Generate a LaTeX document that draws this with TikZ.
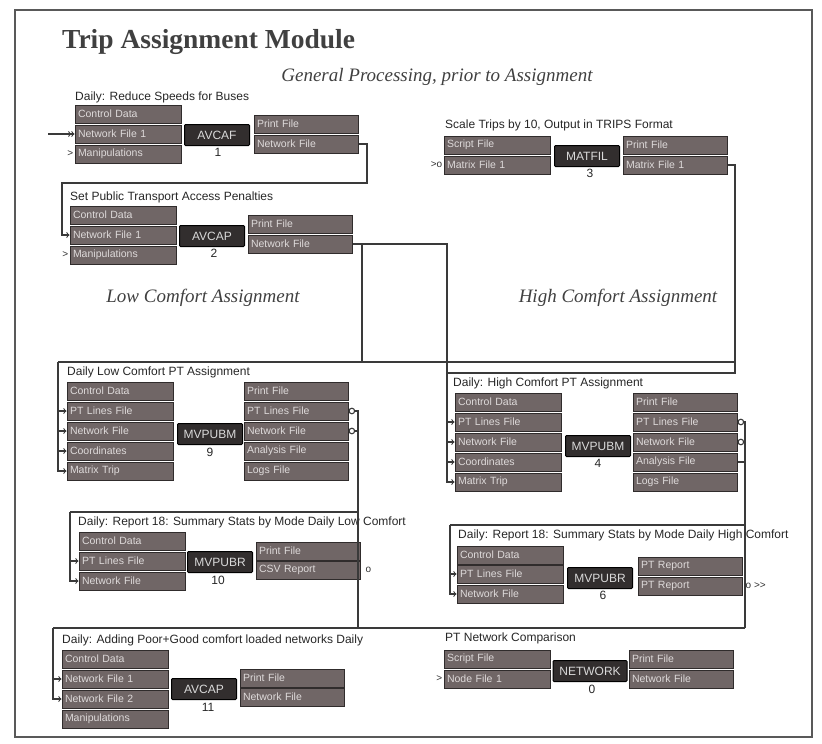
\documentclass[tikz,border=0pt]{standalone}
\usepackage{fontspec}
\setmainfont{Liberation Serif}
\setsansfont{Liberation Sans}
\usetikzlibrary{arrows}

\definecolor{filefill}{RGB}{112,102,102}
\definecolor{fileline}{RGB}{48,44,44}
\definecolor{filetext}{RGB}{222,218,218}
\definecolor{progfill}{RGB}{50,46,46}
\definecolor{linkgray}{RGB}{58,58,58}

\begin{document}
\begin{tikzpicture}[x=1pt,y=-1pt,>=to]
				\tikzstyle{filebox} = [draw=fileline,fill=filefill,text=filetext,line width=1pt,inner xsep=3pt,inner ysep=0pt,text width=100pt,minimum height=18pt,align=left,font=\sffamily\fontsize{10.5}{11}\selectfont];
				\tikzstyle{outbox} = [filebox,text width=98pt];
				\tikzstyle{progbox} = [draw=black,fill=progfill,text=white!85!black,line width=1pt,rounded corners=1pt,minimum width=65pt,minimum height=21pt,inner sep=0pt,font=\sffamily\fontsize{12}{12}\selectfont];
				\tikzstyle{stepnum} = [inner sep=0pt,text=black!85,font=\sffamily\fontsize{12}{12}\selectfont];
				\tikzstyle{blocktitle} = [anchor=west,inner sep=0pt,text=black!85,font=\sffamily\fontsize{12}{12}\selectfont];
				\tikzstyle{heading} = [inner sep=0pt,text=black!75,font=\itshape\fontsize{19}{19}\selectfont];
				\tikzstyle{pinmark} = [inner sep=1pt,text=black!80,font=\sffamily\fontsize{10}{10}\selectfont];
				\tikzstyle{conn} = [draw=linkgray,line width=1.1pt];
				\useasboundingbox (0,0) rectangle (822,744);
				\draw[black!65,line width=1.5pt] (15,10) rectangle (812,737);

				\node[anchor=west,inner sep=0pt,text=black!75,font=\bfseries\fontsize{27.5}{27.5}\selectfont] (ttl) at (62,42) {Trip Assignment Module};
				\node[heading] (hgen) at (437,77) {General Processing, prior to Assignment};
				\node[heading] (hlow) at (203,298) {Low Comfort Assignment};
				\node[heading] (hhigh) at (618,298) {High Comfort Assignment};

				% AVCAF 1
				\node[blocktitle] (t1) at (75,97) {Daily: Reduce Speeds for Buses};
				\node[filebox] (a1c) at (128,114) {Control Data};
				\node[filebox] (a1n) at (128,134) {Network File 1};
				\node[filebox] (a1m) at (128,154) {Manipulations};
				\node[progbox] (a1p) at (217,135) {AVCAF};
				\node[stepnum] (a1k) at (218,152) {1};
				\node[outbox] (a1o) at (306,124) {Print File};
				\node[outbox] (a1w) at (306,144) {Network File};

				% AVCAP 2
				\node[blocktitle] (t2) at (70,197) {Set Public Transport Access Penalties};
				\node[filebox] (a2c) at (123,215) {Control Data};
				\node[filebox] (a2n) at (123,235) {Network File 1};
				\node[filebox] (a2m) at (123,255) {Manipulations};
				\node[progbox] (a2p) at (212,236) {AVCAP};
				\node[stepnum] (a2k) at (214,253) {2};
				\node[outbox] (a2o) at (300,224) {Print File};
				\node[outbox] (a2w) at (300,244) {Network File};

				% MATFIL 3
				\node[blocktitle] (t3) at (445,125) {Scale Trips by 10, Output in TRIPS Format};
				\node[filebox] (m3s) at (497,145) {Script File};
				\node[filebox] (m3m) at (497,165) {Matrix File 1};
				\node[progbox] (m3p) at (587,156) {MATFIL};
				\node[stepnum] (m3k) at (590,173) {3};
				\node[outbox] (m3o) at (675,145) {Print File};
				\node[outbox] (m3w) at (675,165) {Matrix File 1};

				% MVPUBM 9
				\node[blocktitle] (t9) at (67,372) {Daily Low Comfort PT Assignment};
				\node[filebox] (l9c) at (120,391) {Control Data};
				\node[filebox] (l9l) at (120,411) {PT Lines File};
				\node[filebox] (l9n) at (120,431) {Network File};
				\node[filebox] (l9o) at (120,451) {Coordinates};
				\node[filebox] (l9t) at (120,471) {Matrix Trip};
				\node[progbox] (l9p) at (210,434) {MVPUBM};
				\node[stepnum] (l9k) at (210,452) {9};
				\node[outbox] (l9po) at (296,391) {Print File};
				\node[outbox] (l9pl) at (296,411) {PT Lines File};
				\node[outbox] (l9pn) at (296,431) {Network File};
				\node[outbox] (l9pa) at (296,451) {Analysis File};
				\node[outbox] (l9pg) at (296,471) {Logs File};

				% MVPUBM 4
				\node[blocktitle] (t4) at (453,383) {Daily: High Comfort PT Assignment};
				\node[filebox] (h4c) at (508,402) {Control Data};
				\node[filebox] (h4l) at (508,422) {PT Lines File};
				\node[filebox] (h4n) at (508,442) {Network File};
				\node[filebox] (h4o) at (508,462) {Coordinates};
				\node[filebox] (h4t) at (508,482) {Matrix Trip};
				\node[progbox] (h4p) at (598,446) {MVPUBM};
				\node[stepnum] (h4k) at (598,463) {4};
				\node[outbox] (h4po) at (685,402) {Print File};
				\node[outbox] (h4pl) at (685,422) {PT Lines File};
				\node[outbox] (h4pn) at (685,442) {Network File};
				\node[outbox] (h4pa) at (685,462) {Analysis File};
				\node[outbox] (h4pg) at (685,482) {Logs File};

				% MVPUBR 10
				\node[blocktitle] (t10) at (78,522) {Daily: Report 18: Summary Stats by Mode Daily Low Comfort};
				\node[filebox] (r10c) at (132,541) {Control Data};
				\node[filebox] (r10l) at (132,561) {PT Lines File};
				\node[filebox] (r10n) at (132,581) {Network File};
				\node[progbox] (r10p) at (220,562) {MVPUBR};
				\node[stepnum] (r10k) at (218,580) {10};
				\node[outbox] (r10o) at (308,551) {Print File};
				\node[outbox] (r10v) at (308,570) {CSV Report};

				% MVPUBR 6
				\node[blocktitle] (t6) at (458,535) {Daily: Report 18: Summary Stats by Mode Daily High Comfort};
				\node[filebox] (r6c) at (510,555) {Control Data};
				\node[filebox] (r6l) at (510,574) {PT Lines File};
				\node[filebox] (r6n) at (510,594) {Network File};
				\node[progbox] (r6p) at (600,578) {MVPUBR};
				\node[stepnum] (r6k) at (603,595) {6};
				\node[outbox] (r6a) at (690,566) {PT Report};
				\node[outbox] (r6b) at (690,586) {PT Report};

				% AVCAP 11
				\node[blocktitle] (t11) at (62,640) {Daily: Adding Poor+Good comfort loaded networks Daily};
				\node[filebox] (a11c) at (115,659) {Control Data};
				\node[filebox] (a11n) at (115,679) {Network File 1};
				\node[filebox] (a11m) at (115,699) {Network File 2};
				\node[filebox] (a11x) at (115,719) {Manipulations};
				\node[progbox] (a11p) at (204,689) {AVCAP};
				\node[stepnum] (a11k) at (208,707) {11};
				\node[outbox] (a11o) at (292,678) {Print File};
				\node[outbox] (a11w) at (292,697) {Network File};

				% NETWORK 0
				\node[blocktitle] (t0) at (445,638) {PT Network Comparison};
				\node[filebox] (n0s) at (497,659) {Script File};
				\node[filebox] (n0n) at (497,679) {Node File 1};
				\node[progbox,minimum width=74pt] (n0p) at (590,671) {NETWORK};
				\node[stepnum] (n0k) at (592,689) {0};
				\node[outbox] (n0o) at (681,659) {Print File};
				\node[outbox] (n0w) at (681,679) {Network File};

				% loose ends
				\node[pinmark,anchor=east] (q1) at (a1m.west) {>};
				\node[pinmark,anchor=east] (q2) at (a2m.west) {>};
				\node[pinmark,anchor=east] (q3) at (m3m.west) {>o};
				\node[pinmark,anchor=east] (q4) at (n0n.west) {>};
				\node[pinmark,anchor=west] (q5) at ([xshift=4pt]r10v.east) {o};
				\node[pinmark,anchor=west] (q6) at ([xshift=2pt]r6b.east) {o {>}{>}};

				% links
				\coordinate (in1) at (48,134);
				\draw[conn,->>] (in1) -- (a1n.west);
				\coordinate (k1) at (367,183);
				\coordinate (k2) at (62,183);
				\draw[conn,->] (a1w.east) -| (k1) -- (k2) |- (a2n.west);
				\coordinate (k3) at (447,362);
				\coordinate (k4) at (362,244);
				\coordinate (k5) at (58,362);
				\draw[conn] (a2w.east) -| (k3);
				\draw[conn] (k4) |- (k5);
				\coordinate (k6) at (735,373);
				\coordinate (k7) at (447,373);
				\coordinate (k8) at (735,362);
				\draw[conn] (m3w.east) -| (k6) -- (k7);
				\draw[conn] (k8) -- (k5);
				\foreach \n in {l9l,l9n,l9o,l9t} \draw[conn,->] (k5) |- (\n.west);
				\foreach \n in {h4l,h4n,h4o,h4t} \draw[conn,->] (k3) |- (\n.west);
				\coordinate (k9) at (358,628);
				\draw[conn,o-] (l9pl.east) -| (k9);
				\draw[conn,o-] (l9pn.east) -- (l9pn.east -| k9);
				\coordinate (k10) at (358,512);
				\coordinate (k11) at (70,512);
				\draw[conn] (k10) -- (k11);
				\foreach \n in {r10l,r10n} \draw[conn,->] (k11) |- (\n.west);
				\coordinate (k12) at (745,628);
				\draw[conn,o-] (h4pl.east) -| (k12);
				\draw[conn,o-] (h4pn.east) -- (h4pn.east -| k12);
				\draw[conn] (h4pa.east) -- (h4pa.east -| k12);
				\coordinate (k13) at (745,525);
				\coordinate (k14) at (450,525);
				\draw[conn] (k13) -- (k14);
				\foreach \n in {r6l,r6n} \draw[conn,->] (k14) |- (\n.west);
				\coordinate (k15) at (53,628);
				\draw[conn] (k12) -- (k15);
				\foreach \n in {a11n,a11m} \draw[conn,->] (k15) |- (\n.west);
			\end{tikzpicture}
\end{document}
